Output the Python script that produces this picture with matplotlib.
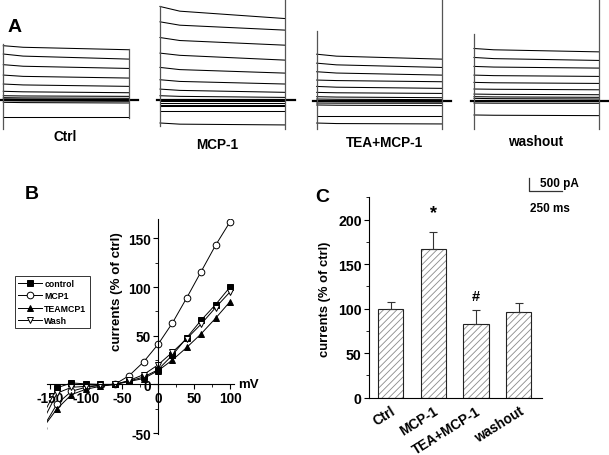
import matplotlib
matplotlib.use('Agg')
import matplotlib.pyplot as plt
from matplotlib.ticker import MultipleLocator

plt.rcParams['font.family'] = ['Liberation Sans', 'DejaVu Sans']
plt.rcParams['font.weight'] = 'bold'
plt.rcParams['axes.unicode_minus'] = False
plt.rcParams['hatch.linewidth'] = 0.6

# ---------- A: whole-cell current traces (pA), read at t = 0, 150, 950 ms ----------
trace_t = [0, 150, 950]
ctrl_traces = [
    [2090, 2030, 1935], [1770, 1690, 1575], [1360, 1300, 1215], [960, 910, 845],
    [615, 580, 525], [335, 315, 280], [165, 155, 140], [90, 80, 65], [40, 30, 15],
    [-25, -35, -50], [-90, -100, -115], [-665, -665, -665],
]
mcp_traces = [
    [3600, 3420, 3135], [3010, 2880, 2690], [2405, 2290, 2110], [1805, 1720, 1535],
    [1255, 1170, 1035], [780, 715, 615], [420, 370, 295], [165, 140, 100],
    [-25, -25, -25], [-115, -115, -115], [-190, -190, -190], [-245, -245, -245],
    [-435, -435, -435], [-885, -930, -960],
]
tea_traces = [
    [1790, 1715, 1600], [1445, 1380, 1280], [1115, 1065, 985], [795, 775, 730],
    [550, 520, 475], [320, 305, 280], [155, 140, 115], [65, 55, 40], [-25, -35, -50],
    [-90, -95, -100], [-165, -175, -190], [-575, -575, -575], [-860, -880, -895],
]
wash_traces = [
    [2010, 1960, 1880], [1665, 1620, 1550], [1320, 1295, 1255], [985, 965, 935],
    [705, 690, 665], [450, 440, 420], [255, 245, 230], [155, 145, 130], [90, 80, 65],
    [0, -10, -25], [-90, -95, -100], [-550, -560, -575],
]
# capacitive transients at pulse on/off (top, bottom) in pA
on_transient = [(2160, -1120), (3630, -990), (2690, -1090), (2570, -1090)]
off_transient = [(1965, -700), (4000, -1120), (4000, -1090), (4000, -1090)]
trace_names = ['Ctrl', 'MCP-1', 'TEA+MCP-1', 'washout']
scale_pa = 500
scale_ms = 250

# ---------- B: I-V curves (% of ctrl) ----------
mv = [-160, -140, -120, -100, -80, -60, -40, -20, 0, 20, 40, 60, 80, 100]
iv_control = [-32, -3.5, 1.5, 0.5, 0, 0, 3.5, 7.5, 15, 30, 48, 66, 82, 100]
iv_mcp1 = [-45, -20, -7, -3, -1, 0, 9, 23, 41, 63, 89, 116, 143, 167]
iv_teamcp1 = [-45, -25, -10.5, -5, -2, 0, 3, 6, 14, 25, 38, 52, 68, 85]
iv_wash = [-38, -9, -3, -2, -1, 0, 4, 10, 20, 33, 47, 62, 79, 95]

# ---------- C: summary bars ----------
groups = ['Ctrl', 'MCP-1', 'TEA+MCP-1', 'washout']
mean_pct = [100, 167, 83, 96]
sem_pct = [8, 19, 15, 10]

W, H = 609, 456
PX_MS = 7.58    # ms per pixel in panel A
PX_PA = 38.5    # pA per pixel in panel A

fig = plt.figure(figsize=(W / 100, H / 100), dpi=100)


def px_axes(x, y, w, h):
    # axes placed by pixel box (top-left origin)
    return fig.add_axes([x / W, 1 - (y + h) / H, w / W, h / H])


def px_text(x, y, s, **kw):
    fig.text(x / W, 1 - y / H, s, **kw)


# ----- panel A -----
a_left = [3.3, 160, 316.7, 474]
a_base = [101, 101, 101.7, 101.7]
a_label_xy = [(65, 137), (217, 145), (385, 143), (536, 142)]
all_traces = [ctrl_traces, mcp_traces, tea_traces, wash_traces]

for i in range(4):
    ax = px_axes(a_left[i] - 20, 0, 160, 140)
    ax.set_xlim(-20 * PX_MS, 140 * PX_MS)
    ax.set_ylim((a_base[i] - 140) * PX_PA, a_base[i] * PX_PA)
    ax.axis('off')
    for tr in all_traces[i]:
        ax.plot(trace_t, tr, color='black', lw=0.75)
    ax.plot([-25, 1020], [0, 0], color='black', lw=1.6)
    top, bot = on_transient[i]
    ax.plot([0, 0], [bot, top], color='#555555', lw=0.9)
    top, bot = off_transient[i]
    ax.plot([trace_t[-1]] * 2, [bot, top], color='#555555', lw=0.9)
    lx, ly = a_label_xy[i]
    px_text(lx, ly, trace_names[i], fontsize=9.8, ha='center', va='center')

px_text(15, 28, 'A', fontsize=14, ha='center', va='center')

# scale bar
axs = px_axes(520, 170, 60, 30)
axs.set_xlim(-9 * PX_MS, 51 * PX_MS)
axs.set_ylim(-7.7 * PX_PA, 22.3 * PX_PA)
axs.axis('off')
axs.plot([0, 0, scale_ms], [scale_pa, 0, 0], color='#333333', lw=0.9)
px_text(540, 184, f'{scale_pa} pA', fontsize=8.5, ha='left', va='center')
px_text(530, 209, f'{scale_ms} ms', fontsize=8.5, ha='left', va='center')

# ----- panel B -----
axB = px_axes(47, 220, 187.3, 215)
axB.set_xlim(-154, 106)
axB.set_ylim(-51, 170)
axB.patch.set_visible(False)
for s in ['top', 'right']:
    axB.spines[s].set_visible(False)
axB.spines['left'].set_position(('data', 0))
axB.spines['bottom'].set_position(('data', 0))
axB.spines['left'].set_linewidth(0.8)
axB.spines['bottom'].set_linewidth(0.8)
axB.xaxis.set_major_locator(MultipleLocator(50))
axB.xaxis.set_minor_locator(MultipleLocator(25))
axB.yaxis.set_major_locator(MultipleLocator(50))
axB.yaxis.set_minor_locator(MultipleLocator(25))
axB.tick_params(which='major', direction='out', length=3.5, width=0.8, labelsize=9.8, pad=1.5)
axB.tick_params(which='minor', direction='out', length=2, width=0.6)

series = [
    (iv_control, 's', 'black', 'control'),
    (iv_mcp1, 'o', 'white', 'MCP1'),
    (iv_teamcp1, '^', 'black', 'TEAMCP1'),
    (iv_wash, 'v', 'white', 'Wash'),
]
handles = []
for vals, mk, fc, name in series:
    h, = axB.plot(mv, vals, color='black', lw=0.7, marker=mk, ms=4.8,
                  mfc=fc, mec='black', mew=0.7, label=name)
    handles.append(h)

leg = axB.legend(handles=handles, loc='upper left', bbox_to_anchor=(15 / W, 1 - 277 / H),
                 bbox_transform=fig.transFigure, fontsize=6.3, frameon=True, fancybox=False,
                 borderpad=0.35, labelspacing=0.38, handlelength=2.7, handletextpad=0.3,
                 borderaxespad=0)
leg.get_frame().set_edgecolor('black')
leg.get_frame().set_linewidth(0.7)

px_text(117, 292, 'currents (% of ctrl)', fontsize=9.6, rotation=90, ha='center', va='center')
px_text(248, 385, 'mV', fontsize=9.5, ha='center', va='center')
px_text(32, 195, 'B', fontsize=14, ha='center', va='center')

# ----- panel C -----
axC = px_axes(369.3, 198.3, 172.4, 200.4)
axC.set_xlim(-0.5, 3.54)
axC.set_ylim(0, 225)
xpos = list(range(len(groups)))
axC.bar(xpos, mean_pct, width=0.6, color='white', edgecolor='#8a8a8a', hatch='/////', linewidth=0)
axC.bar(xpos, mean_pct, width=0.6, fill=False, edgecolor='#222222', linewidth=0.8)
axC.errorbar(xpos, mean_pct, yerr=[[0] * len(groups), sem_pct], fmt='none',
             ecolor='#333333', elinewidth=0.8, capsize=3, capthick=0.8)
for s in ['top', 'right']:
    axC.spines[s].set_visible(False)
axC.spines['left'].set_linewidth(0.8)
axC.spines['bottom'].set_linewidth(0.8)
axC.yaxis.set_major_locator(MultipleLocator(50))
axC.yaxis.set_minor_locator(MultipleLocator(25))
axC.set_xticks(xpos)
axC.set_xticklabels(groups, rotation=32, ha='right', rotation_mode='anchor')
axC.tick_params(which='major', direction='out', length=3.5, width=0.8, labelsize=10.2, pad=2)
axC.tick_params(which='minor', direction='out', length=2, width=0.6)
axC.tick_params(axis='x', length=0, pad=4, labelsize=9.8)
axC.text(1, 208, '*', fontsize=13, ha='center', va='center')
axC.text(2, 114, '#', fontsize=10.5, ha='center', va='center')

px_text(325, 299, 'currents (% of ctrl)', fontsize=9.4, rotation=90, ha='center', va='center')
px_text(322, 197, 'C', fontsize=14, ha='center', va='center')

fig.savefig('out.png', dpi=100)
